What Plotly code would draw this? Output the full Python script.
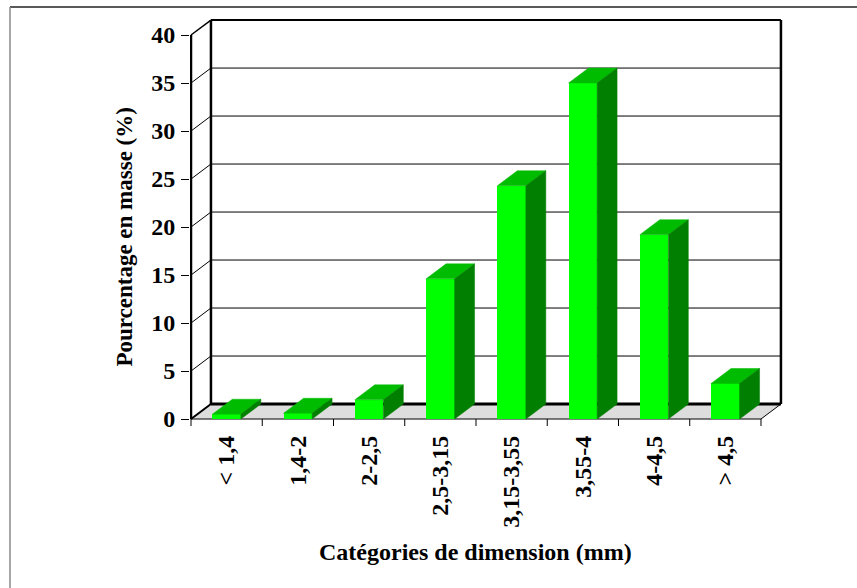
import plotly.graph_objects as go

# Mass distribution by size class
categories = ["< 1,4", "1,4-2", "2-2,5", "2,5-3,15", "3,15-3,55", "3,55-4", "4-4,5", "> 4,5"]
mass_percent = [0.5, 0.6, 2.0, 14.6, 24.3, 35.0, 19.2, 3.7]
y_ticks = [0, 5, 10, 15, 20, 25, 30, 35, 40]

# Figure geometry
W, H = 857, 588
ML, MR, MT, MB = 190, 72, 14, 162
X_RANGE = [-0.514, 7.837]
Y_RANGE = [-0.729, 42.19]
DX, DY = 0.28, 1.56          # oblique depth offset of the 3D box
BAR_W = 0.4
Y_MAX = 40
FONT = "Liberation Serif"

FRONT = "#00FF00"
TOP = "#00BC00"
SIDE = "#007F00"
FLOOR = "#DDDDDD"

n = len(categories)
x_lo, x_hi = -0.5, n - 0.5

fig = go.Figure()

# front faces of the columns
fig.add_trace(go.Bar(
    x=list(range(n)), y=mass_percent, width=BAR_W,
    marker=dict(color=FRONT, line=dict(width=0)),
    hoverinfo="skip", showlegend=False,
))

# top and side faces of each column
for i, v in enumerate(mass_percent):
    l, r = i - BAR_W / 2, i + BAR_W / 2
    fig.add_trace(go.Scatter(
        x=[l, r, r + DX, l + DX, l], y=[v, v, v + DY, v + DY, v],
        fill="toself", fillcolor=TOP, mode="lines",
        line=dict(color=TOP, width=0.5), hoverinfo="skip", showlegend=False,
    ))
    fig.add_trace(go.Scatter(
        x=[r, r + DX, r + DX, r, r], y=[0, DY, v + DY, v, 0],
        fill="toself", fillcolor=SIDE, mode="lines",
        line=dict(color=SIDE, width=0.5), hoverinfo="skip", showlegend=False,
    ))

shapes = []


def seg(x0, y0, x1, y1, width=1, color="black"):
    shapes.append(dict(type="line", xref="x", yref="y", layer="below",
                       x0=x0, y0=y0, x1=x1, y1=y1,
                       line=dict(color=color, width=width)))


# floor
shapes.append(dict(
    type="path", xref="x", yref="y", layer="below",
    path=f"M {x_lo},0 L {x_hi},0 L {x_hi + DX},{DY} L {x_lo + DX},{DY} Z",
    fillcolor=FLOOR, line=dict(color="black", width=1),
))
seg(x_lo + DX, DY, x_hi + DX, DY, width=3)
seg(x_lo, 0, x_lo + DX, DY, width=2)

# back wall grid and side-wall diagonals
for v in y_ticks[1:]:
    seg(x_lo + DX, v + DY, x_hi + DX, v + DY, width=2 if v == Y_MAX else 1)
    seg(x_lo, v, x_lo + DX, v + DY, width=1.5 if v == Y_MAX else 1)

# wall edges and front value axis
seg(x_lo + DX, DY, x_lo + DX, Y_MAX + DY, width=2.5)
seg(x_hi + DX, DY, x_hi + DX, Y_MAX + DY, width=2.5)
seg(x_lo, 0, x_lo, Y_MAX, width=2.5)

# category boundary ticks
for k in range(n + 1):
    seg(k - 0.5, 0, k - 0.5, Y_RANGE[0], width=1)

# outer chart frame (top and left edges)
pw, ph = W - ML - MR, H - MT - MB


def px(xp):
    return (xp - ML) / pw


def py(yp):
    return (H - MB - yp) / ph


shapes.append(dict(type="line", xref="paper", yref="paper",
                   x0=px(10), y0=py(7), x1=px(857), y1=py(7),
                   line=dict(color="#222222", width=1.5)))
shapes.append(dict(type="line", xref="paper", yref="paper",
                   x0=px(10), y0=py(7), x1=px(10), y1=py(588),
                   line=dict(color="#8a8a8a", width=1.5)))

fig.update_layout(
    width=W, height=H,
    margin=dict(l=ML, r=MR, t=MT, b=MB),
    paper_bgcolor="white", plot_bgcolor="white",
    shapes=shapes,
    bargap=0,
    xaxis=dict(
        range=X_RANGE, tickvals=list(range(n)), ticktext=categories,
        tickangle=-90, ticks="", showgrid=False, zeroline=False, showline=False,
        ticklabelstandoff=4,
        tickfont=dict(family=FONT, size=24, color="black", weight="bold"),
    ),
    yaxis=dict(
        range=Y_RANGE, tickvals=y_ticks, ticks="outside", ticklen=8,
        tickwidth=1, tickcolor="black", showgrid=False, zeroline=False,
        showline=False, ticklabelstandoff=1,
        tickfont=dict(family=FONT, size=24, color="black", weight="bold"),
    ),
    annotations=[
        dict(text="<b>Pourcentage en masse (%)</b>", xref="paper", yref="y",
             x=px(125), y=19, textangle=-90, showarrow=False,
             xanchor="center", yanchor="middle",
             font=dict(family=FONT, size=23, color="black")),
        dict(text="<b>Catégories de dimension (mm)</b>", xref="x", yref="paper",
             x=3.5, y=py(552), showarrow=False,
             xanchor="center", yanchor="middle",
             font=dict(family=FONT, size=24, color="black")),
    ],
)

fig.write_html("out.html")
